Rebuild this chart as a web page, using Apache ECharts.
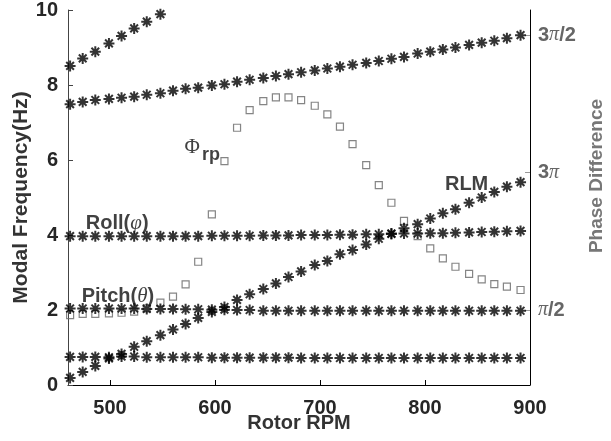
<!DOCTYPE html>
<html>
<head>
<meta charset="utf-8">
<script src="https://cdn.jsdelivr.net/npm/echarts@6/dist/echarts.min.js"></script>
<style>
  html, body { margin: 0; padding: 0; background: #fff; }
  #chart { width: 611px; height: 441px; }
</style>
</head>
<body>
<div id="chart"></div>
<script>
// Rotor speed samples (RPM)
const rpm = [462, 474, 486, 499, 511, 523, 535, 548, 560, 572, 584, 597, 609, 621, 633, 646, 658, 670,
             682, 695, 707, 719, 731, 744, 756, 768, 780, 793, 805, 817, 829, 842, 854, 866, 878, 891];

// Modal frequencies (Hz)
const modeHigh = [8.51, 8.71, 8.89, 9.11, 9.31, 9.51, 9.69, 9.89];
const modeUpper = [7.49, 7.55, 7.60, 7.63, 7.66, 7.69, 7.74, 7.78, 7.85, 7.90, 7.93, 7.99, 8.02, 8.09, 8.14, 8.19, 8.24, 8.29,
                   8.34, 8.39, 8.44, 8.49, 8.54, 8.59, 8.64, 8.70, 8.75, 8.84, 8.89, 8.95, 9.00, 9.07, 9.13, 9.18, 9.25, 9.33];
const modeRoll = [3.97, 3.97, 3.97, 3.97, 3.97, 3.97, 3.97, 3.97, 3.97, 3.97, 3.97, 3.98, 3.98, 3.98, 3.98, 3.99, 3.99, 3.99,
                  4.00, 4.00, 4.00, 4.01, 4.01, 4.02, 4.02, 4.03, 4.04, 4.04, 4.05, 4.05, 4.06, 4.07, 4.08, 4.09, 4.10, 4.11];
const modePitch = [2.04, 2.04, 2.04, 2.04, 2.04, 2.04, 2.03, 2.03, 2.03, 2.02, 2.02, 2.01, 2.01, 2.00, 2.00, 1.98, 1.98, 1.98,
                   1.98, 1.98, 1.98, 1.98, 1.98, 1.98, 1.98, 1.98, 1.98, 1.98, 1.98, 1.98, 1.98, 1.98, 1.98, 1.98, 1.98, 1.98];
const modeLow = [0.75, 0.75, 0.75, 0.74, 0.76, 0.76, 0.74, 0.74, 0.74, 0.74, 0.74, 0.73, 0.73, 0.73, 0.73, 0.73, 0.73, 0.73,
                 0.72, 0.72, 0.72, 0.72, 0.72, 0.72, 0.72, 0.72, 0.72, 0.72, 0.72, 0.72, 0.72, 0.72, 0.72, 0.72, 0.72, 0.72];
const modeRLM = [0.19, 0.35, 0.51, 0.71, 0.83, 1.02, 1.17, 1.33, 1.48, 1.63, 1.79, 1.95, 2.08, 2.27, 2.42, 2.56, 2.71, 2.88,
                 3.03, 3.20, 3.31, 3.49, 3.60, 3.75, 3.90, 4.04, 4.18, 4.29, 4.44, 4.58, 4.69, 4.86, 5.00, 5.15, 5.29, 5.41];

// Roll-pitch phase difference (degrees)
const phaseRP = [86.7, 87.4, 87.4, 87.8, 88.2, 88.9, 91.1, 94.8, 98.7, 106.8, 121.6, 152.6, 187.5, 209.3, 220.9, 226.8, 229.2, 229.2,
                 227.4, 223.7, 218.1, 210.0, 198.6, 184.9, 171.8, 160.2, 148.4, 138.4, 130.4, 123.8, 118.3, 113.6, 110.1, 107.0, 105.3, 103.1];

// Axis ticks
const xTicks = [500, 600, 700, 800, 900];
const phaseTicks = [90, 180, 270];
const phaseTickText = { 90: '{i|π}{b|/2}', 180: '{b|3}{i|π}', 270: '{b|3}{i|π}{b|/2}' };

// Curve labels: [rpm, Hz, rich text]
const curveLabels = [
  [571, 6.25, '{phi|Φ}{sub|rp}'],
  [477, 4.30, '{b|Roll(}{g|φ}{b|)}'],
  [473, 2.36, '{b|Pitch(}{g|θ}{b|)}'],
  [819, 5.36, '{b|RLM}']
];

const pair = (ys) => ys.map((y, i) => [rpm[i], y]);

const star = 'path://M0,5 L10,5 M5,0 L5,10 M1.5,1.5 L8.5,8.5 M8.5,1.5 L1.5,8.5';
const starSeries = (name, ys) => ({
  name, type: 'scatter', data: pair(ys),
  symbol: star, symbolSize: 11,
  itemStyle: { color: 'none', borderColor: '#000', borderWidth: 2 },
  silent: true, z: 3
});

const FONT = 'Liberation Sans, Arial, sans-serif';
const chart = echarts.init(document.getElementById('chart'), null, { renderer: 'canvas' });

chart.setOption({
  animation: false,
  backgroundColor: '#fff',
  grid: { left: 68, right: 81, top: 10, bottom: 56, containLabel: false, outerBoundsMode: 'none' },
  xAxis: {
    type: 'value', min: 460, max: 900,
    name: 'Rotor RPM', nameLocation: 'middle', nameGap: 28, nameMoveOverlap: false,
    nameTextStyle: { fontFamily: FONT, fontWeight: 'bold', fontSize: 20, color: '#333' },
    axisLine: { show: true, lineStyle: { color: '#000', width: 1 } },
    axisTick: { show: true, inside: true, length: 5, customValues: xTicks, lineStyle: { color: '#000' } },
    axisLabel: { customValues: xTicks, margin: 13, fontFamily: FONT, fontWeight: 'bold', fontSize: 20, color: '#262626' },
    splitLine: { show: false }
  },
  yAxis: [{
    type: 'value', min: 0, max: 10, interval: 2, position: 'left',
    name: 'Modal Frequency(Hz)', nameLocation: 'middle', nameGap: 36, nameMoveOverlap: false,
    nameTextStyle: { fontFamily: FONT, fontWeight: 'bold', fontSize: 21, color: '#333' },
    axisLine: { show: true, lineStyle: { color: '#444', width: 1 } },
    axisTick: { show: true, inside: true, length: 5, lineStyle: { color: '#444' } },
    axisLabel: { margin: 10, fontFamily: FONT, fontWeight: 'bold', fontSize: 20, color: '#262626' },
    splitLine: { show: false }
  }, {
    type: 'value', min: 40.9, max: 286.4, position: 'right',
    name: 'Phase Difference', nameLocation: 'middle', nameGap: 57, nameRotate: 90, nameMoveOverlap: false,
    nameTextStyle: { fontFamily: FONT, fontWeight: 'bold', fontSize: 19, color: '#777', padding: [0, 0, 0, 43] },
    axisLine: { show: true, lineStyle: { color: '#000', width: 1 } },
    axisTick: { show: true, inside: true, length: 5, customValues: phaseTicks, lineStyle: { color: '#999' } },
    axisLabel: {
      customValues: phaseTicks, margin: 8,
      formatter: (v) => phaseTickText[Math.round(v)] || '',
      rich: {
        b: { fontFamily: FONT, fontWeight: 'bold', fontSize: 20, color: '#666' },
        i: { fontFamily: 'Liberation Serif, serif', fontStyle: 'italic', fontSize: 20, color: '#666' }
      }
    },
    splitLine: { show: false }
  }],
  series: [
    starSeries('high', modeHigh),
    starSeries('upper', modeUpper),
    starSeries('roll', modeRoll),
    starSeries('pitch', modePitch),
    starSeries('low', modeLow),
    starSeries('rlm', modeRLM),
    {
      name: 'phase', type: 'scatter', yAxisIndex: 1, data: pair(phaseRP),
      symbol: 'rect', symbolSize: 7,
      itemStyle: { color: 'none', borderColor: '#666', borderWidth: 1.2 },
      silent: true, z: 2
    },
    {
      name: 'labels', type: 'scatter', data: curveLabels.map(d => [d[0], d[1]]),
      symbolSize: 0, silent: true, z: 5,
      label: {
        show: true, position: 'right', distance: 0,
        formatter: (p) => curveLabels[p.dataIndex][2],
        rich: {
          b: { fontFamily: FONT, fontWeight: 'bold', fontSize: 20, color: '#111' },
          g: { fontFamily: 'Liberation Serif, serif', fontStyle: 'italic', fontSize: 21, color: '#111' },
          phi: { fontFamily: 'Liberation Serif, serif', fontSize: 21, color: '#111', padding: [0, 2, 6, 0] },
          sub: { fontFamily: FONT, fontWeight: 'bold', fontSize: 18, color: '#111', padding: [8, 0, 0, 0] }
        }
      }
    }
  ]
});
</script>
</body>
</html>
